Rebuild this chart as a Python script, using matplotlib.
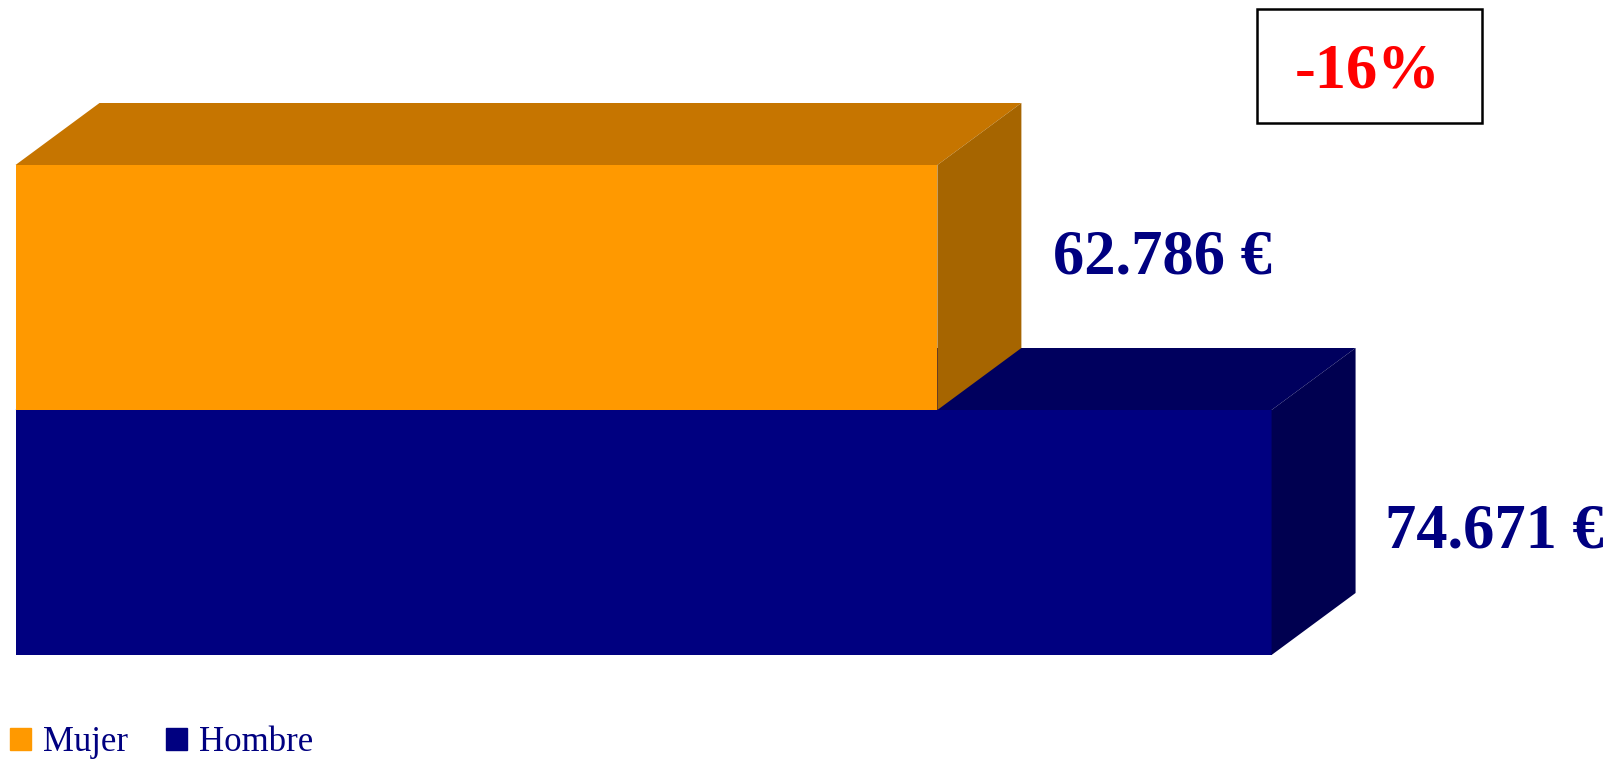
import matplotlib
matplotlib.use("Agg")
import matplotlib.pyplot as plt
from matplotlib.patches import Polygon, Rectangle, Patch

# Salario medio por sexo
categorias = ["Hombre", "Mujer"]
salarios = [74671, 62786]
etiquetas = [f"{v:,}".replace(",", ".") + " €" for v in salarios]
diferencia = round((salarios[1] - salarios[0]) / salarios[0] * 100)

# colores: frente, techo, lateral
col_frente = ["#000080", "#FF9900"]
col_techo = ["#00005E", "#C67500"]
col_lado = ["#000050", "#A66500"]
label_voff = [0, 29]   # desplazamiento vertical de etiquetas (px)
label_gap = [29, 32]

x0 = 30000
depth_px = (84, 62)

fig = plt.figure(figsize=(16.24, 7.59), dpi=100)
ax = fig.add_axes([15.5 / 1624, 104 / 759, 1546.5 / 1624, 612.5 / 759])
ax.set_xlim(x0, 85000)
ax.set_ylim(-0.5, 2.0)
ax.axis("off")

# profundidad en unidades de datos
ppx = ax.bbox.width / (85000 - x0)
ppy = ax.bbox.height / 2.5
dx = depth_px[0] / ppx
dy = depth_px[1] / ppy

for i, (cat, v) in enumerate(zip(categorias, salarios)):
    bot, top = i - 0.5, i + 0.5
    ax.barh(i, v - x0, left=x0, height=1.0, color=col_frente[i], linewidth=0)
    techo = Polygon([(x0, top), (v, top), (v + dx, top + dy), (x0 + dx, top + dy)],
                    closed=True, facecolor=col_techo[i], edgecolor="none")
    lado = Polygon([(v, bot), (v + dx, bot + dy), (v + dx, top + dy), (v, top)],
                   closed=True, facecolor=col_lado[i], edgecolor="none")
    ax.add_patch(techo)
    ax.add_patch(lado)
    ax.annotate(etiquetas[i], xy=(v, i), xytext=(depth_px[0] + label_gap[i], label_voff[i]),
                textcoords="offset pixels", ha="left", va="center",
                fontsize=45, fontweight="bold", family="Liberation Serif",
                color="#000080", annotation_clip=False)

# cuadro de diferencia
fig.patches.append(Rectangle((1257 / 1624, (759 - 123) / 759), 225 / 1624, 114 / 759,
                             transform=fig.transFigure, facecolor="white",
                             edgecolor="black", linewidth=1.8))
fig.text(1368 / 1624, 1 - 73 / 759, f"{diferencia}%", ha="center", va="center",
         fontsize=45, fontweight="bold", family="Liberation Serif", color="red")

handles = [Patch(color=col_frente[1], label=categorias[1]),
           Patch(color=col_frente[0], label=categorias[0])]
fig.legend(handles=handles, loc="lower left", bbox_to_anchor=(-0.009, -0.032), ncol=2,
           frameon=False, handlelength=0.6, handleheight=0.6, handletextpad=0.35,
           columnspacing=1.1, borderaxespad=0.3,
           prop=dict(family="Liberation Serif", size=25), labelcolor="#000080")

fig.savefig("out.png", dpi=100, facecolor="white")
